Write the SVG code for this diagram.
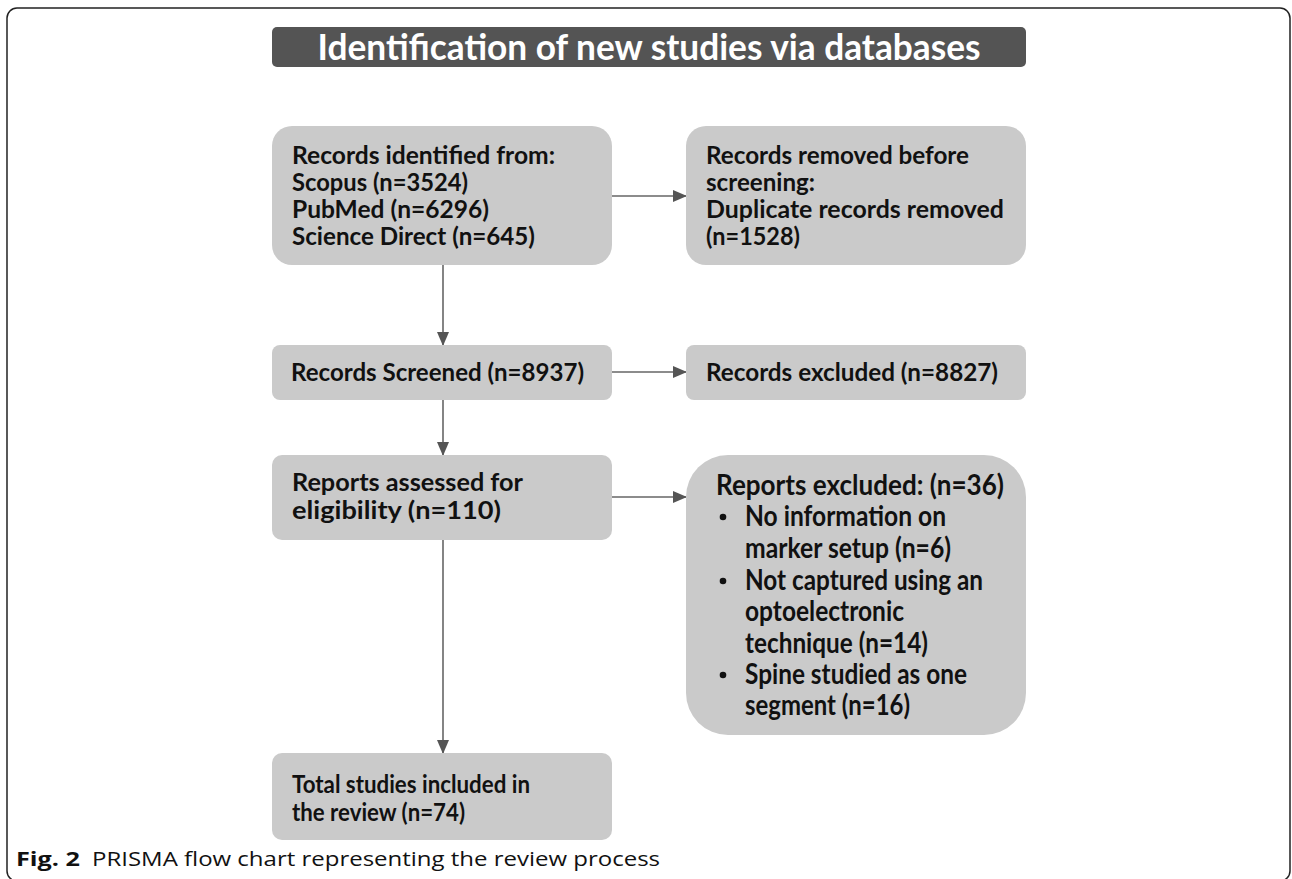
<svg xmlns="http://www.w3.org/2000/svg" width="1292" height="879" viewBox="0 0 1292 879">
<style>
.box{fill:#cacaca;}
.t{font-family:Lato,"Open Sans","Liberation Sans",sans-serif;font-weight:bold;fill:#111;font-size:25.5px;}
.t4{font-family:Lato,"Open Sans","Liberation Sans",sans-serif;font-weight:bold;fill:#111;font-size:24px;}
.tb{font-family:Lato,"Open Sans","Liberation Sans",sans-serif;font-weight:bold;fill:#111;font-size:28px;}
.conn{stroke:#666;stroke-width:1.6;fill:none;}
.cap{font-family:"Open Sans","Liberation Sans",sans-serif;font-size:20px;fill:#111;}
</style>
<defs>
<marker id="ah" markerWidth="14" markerHeight="12" refX="13" refY="6" orient="auto" markerUnits="userSpaceOnUse">
<path d="M0,0 L14,6 L0,12 Z" fill="#555"/>
</marker>
</defs>
<rect x="7" y="8" width="1283" height="873" rx="10" fill="#fff" stroke="#222" stroke-width="1.5"/>
<g id="header">
<rect x="272" y="27" width="754" height="40" rx="5" fill="#545454"/>
<text x="649" y="60" text-anchor="middle" font-family="Lato,'Open Sans',sans-serif" font-weight="bold" font-size="36" fill="#fff" textLength="663" lengthAdjust="spacingAndGlyphs">Identification of new studies via databases</text>
</g>
<g id="connectors">
<line class="conn" x1="612" y1="196" x2="686" y2="196" marker-end="url(#ah)"/>
<line class="conn" x1="443" y1="265" x2="443" y2="345" marker-end="url(#ah)"/>
<line class="conn" x1="612" y1="372" x2="686" y2="372" marker-end="url(#ah)"/>
<line class="conn" x1="443" y1="400" x2="443" y2="455" marker-end="url(#ah)"/>
<line class="conn" x1="612" y1="497" x2="686" y2="497" marker-end="url(#ah)"/>
<line class="conn" x1="443" y1="540" x2="443" y2="753" marker-end="url(#ah)"/>
</g>
<g id="identified">
<rect class="box" x="272" y="126" width="340" height="139" rx="20"/>
<text class="t4" x="292" y="164" textLength="263" lengthAdjust="spacingAndGlyphs">Records identified from:</text>
<text class="t4" x="292" y="191" textLength="176" lengthAdjust="spacingAndGlyphs">Scopus (n=3524)</text>
<text class="t4" x="292" y="218" textLength="197" lengthAdjust="spacingAndGlyphs">PubMed (n=6296)</text>
<text class="t4" x="292" y="245" textLength="243" lengthAdjust="spacingAndGlyphs">Science Direct (n=645)</text>
</g>
<g id="removed">
<rect class="box" x="686" y="126" width="340" height="139" rx="20"/>
<text class="t4" x="706" y="164" textLength="263" lengthAdjust="spacingAndGlyphs">Records removed before</text>
<text class="t4" x="706" y="191" textLength="109" lengthAdjust="spacingAndGlyphs">screening:</text>
<text class="t4" x="706" y="218" textLength="298" lengthAdjust="spacingAndGlyphs">Duplicate records removed</text>
<text class="t4" x="706" y="245" textLength="94" lengthAdjust="spacingAndGlyphs">(n=1528)</text>
</g>
<g id="screened">
<rect class="box" x="272" y="345" width="340" height="55" rx="8"/>
<text class="t" x="291" y="381" textLength="293" lengthAdjust="spacingAndGlyphs">Records Screened (n=8937)</text>
</g>
<g id="excluded">
<rect class="box" x="686" y="345" width="340" height="55" rx="8"/>
<text class="t" x="706" y="381" textLength="292" lengthAdjust="spacingAndGlyphs">Records excluded (n=8827)</text>
</g>
<g id="assessed">
<rect class="box" x="272" y="455" width="340" height="85" rx="10"/>
<text class="t" x="292" y="491" textLength="231" lengthAdjust="spacingAndGlyphs">Reports assessed for</text>
<text class="t" x="292" y="519" textLength="209" lengthAdjust="spacingAndGlyphs">eligibility (n=110)</text>
</g>
<g id="reports-excluded">
<rect class="box" x="686" y="455" width="340" height="280" rx="42"/>
<text class="tb" x="716" y="495" textLength="288" lengthAdjust="spacingAndGlyphs">Reports excluded: (n=36)</text>
<circle cx="723" cy="517" r="3.3" fill="#111"/>
<text class="tb" x="745" y="526" textLength="201" lengthAdjust="spacingAndGlyphs">No information on</text>
<text class="tb" x="745" y="558" textLength="206" lengthAdjust="spacingAndGlyphs">marker setup (n=6)</text>
<circle cx="723" cy="581" r="3.3" fill="#111"/>
<text class="tb" x="745" y="590" textLength="238" lengthAdjust="spacingAndGlyphs">Not captured using an</text>
<text class="tb" x="745" y="621" textLength="159" lengthAdjust="spacingAndGlyphs">optoelectronic</text>
<text class="tb" x="745" y="653" textLength="183" lengthAdjust="spacingAndGlyphs">technique (n=14)</text>
<circle cx="723" cy="675" r="3.3" fill="#111"/>
<text class="tb" x="745" y="684" textLength="222" lengthAdjust="spacingAndGlyphs">Spine studied as one</text>
<text class="tb" x="745" y="715" textLength="165" lengthAdjust="spacingAndGlyphs">segment (n=16)</text>
</g>
<g id="included">
<rect class="box" x="272" y="753" width="340" height="87" rx="10"/>
<text class="t" x="292" y="793" textLength="238" lengthAdjust="spacingAndGlyphs">Total studies included in</text>
<text class="t" x="292" y="821" textLength="173" lengthAdjust="spacingAndGlyphs">the review (n=74)</text>
</g>
<g id="caption">
<text class="cap" x="16" y="866" font-weight="bold" textLength="64" lengthAdjust="spacingAndGlyphs">Fig. 2</text>
<text class="cap" x="92" y="866" textLength="568" lengthAdjust="spacingAndGlyphs">PRISMA flow chart representing the review process</text>
</g>
</svg>
